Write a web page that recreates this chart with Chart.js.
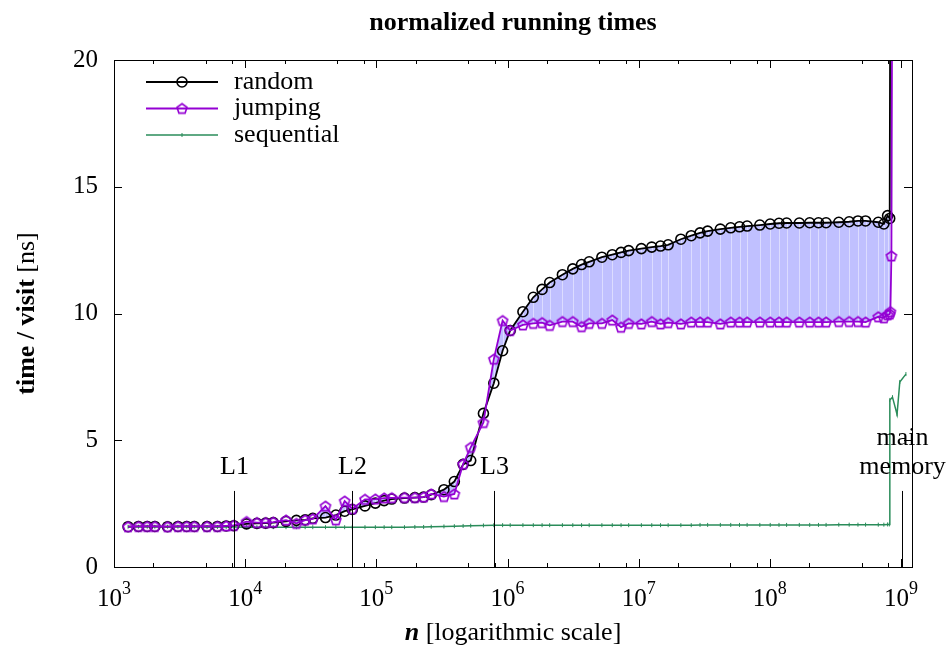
<!DOCTYPE html>
<html>
<head>
<meta charset="utf-8">
<title>normalized running times</title>
<script src="https://cdn.jsdelivr.net/npm/chart.js@4/dist/chart.umd.min.js"></script>
<style>
  html, body { margin: 0; padding: 0; background: #fff; }
  canvas { display: block; }
</style>
</head>
<body>
<canvas id="chart" width="946" height="648"></canvas>
<script>
// problem sizes n (shared by random and jumping)
const nValues = [1280, 1536, 1792, 2048, 2560, 3072, 3584, 4096, 5120, 6144, 7168, 8192,
  10240, 12288, 14336, 16384, 20480, 24576, 28672, 32768, 40960, 49152, 57344, 65536,
  81920, 98304, 114688, 131072, 163840, 196608, 229376, 262144, 327680, 393216, 458752, 524288,
  655360, 786432, 917504, 1048576, 1310720, 1572864, 1835008, 2097152, 2621440, 3145728, 3670016, 4194304,
  5242880, 6291456, 7340032, 8388608, 10485760, 12582912, 14680064, 16777216,
  20971520, 25165824, 29360128, 33554432, 41943040, 50331648, 58720256, 67108864,
  83886080, 100663296, 117440512, 134217728, 167772160, 201326592, 234881024, 268435456,
  335544320, 402653184, 469762048, 536870912, 671088640,
  740000000, 790000000, 820000000, 830000000, 845000000, 860000000];

const randomTimes = [1.59, 1.60, 1.60, 1.60, 1.59, 1.60, 1.60, 1.60, 1.60, 1.60, 1.62, 1.63,
  1.70, 1.72, 1.73, 1.75, 1.80, 1.84, 1.86, 1.92, 1.95, 2.05, 2.20, 2.27,
  2.41, 2.52, 2.62, 2.68, 2.72, 2.74, 2.76, 2.85, 3.05, 3.37, 4.05, 4.20,
  6.06, 7.25, 8.53, 9.33, 10.07, 10.64, 10.95, 11.22, 11.53, 11.76, 11.93, 12.04,
  12.22, 12.32, 12.41, 12.48, 12.56, 12.62, 12.66, 12.71,
  12.93, 13.07, 13.18, 13.25, 13.33, 13.38, 13.42, 13.45,
  13.49, 13.53, 13.56, 13.57, 13.57, 13.58, 13.58, 13.58,
  13.60, 13.62, 13.65, 13.65, 13.60,
  13.53, 13.86, 13.75, 26, 26, 26];

const jumpingTimes = [1.59, 1.60, 1.60, 1.60, 1.59, 1.60, 1.60, 1.60, 1.60, 1.60, 1.62, 1.64,
  1.79, 1.75, 1.75, 1.77, 1.85, 1.72, 1.85, 1.90, 2.40, 1.86, 2.60, 2.30,
  2.67, 2.68, 2.72, 2.73, 2.74, 2.74, 2.76, 2.88, 2.78, 2.88, 4.06, 4.72,
  5.70, 8.20, 9.72, 9.33, 9.55, 9.61, 9.64, 9.53, 9.68, 9.68, 9.48, 9.61,
  9.61, 9.74, 9.46, 9.61, 9.59, 9.68, 9.59, 9.64,
  9.59, 9.66, 9.66, 9.66, 9.59, 9.66, 9.66, 9.66,
  9.66, 9.66, 9.66, 9.66, 9.66, 9.66, 9.66, 9.66,
  9.68, 9.68, 9.68, 9.66, 9.87,
  9.83, 9.95, 9.98, 10.07, 12.27, 26];

const seqN = [1280, 1536, 1792, 2048, 2560, 3072, 3584, 4096, 5120, 6144, 7168, 8192,
  10240, 12288, 14336, 16384, 20480, 24576, 28672, 32768, 40960, 49152, 57344, 65536,
  81920, 98304, 114688, 131072, 163840, 196608, 229376, 262144, 327680, 393216, 458752, 524288,
  655360, 786432, 917504, 1048576, 1310720, 1572864, 1835008, 2097152, 2621440, 3145728, 3670016, 4194304,
  5242880, 6291456, 7340032, 8388608, 10485760, 12582912, 14680064, 16777216,
  20971520, 25165824, 29360128, 33554432, 41943040, 50331648, 58720256, 67108864,
  83886080, 100663296, 117440512, 134217728, 167772160, 201326592, 234881024, 268435456,
  335544320, 402653184, 469762048, 536870912, 671088640,
  740000000, 790000000, 815000000, 822000000, 861000000, 933000000, 979000000, 1090000000];

const seqTimes = [1.59, 1.59, 1.59, 1.59, 1.59, 1.59, 1.59, 1.59, 1.58, 1.58, 1.58, 1.58,
  1.57, 1.57, 1.57, 1.57, 1.57, 1.57, 1.57, 1.57, 1.57, 1.57, 1.57, 1.57,
  1.57, 1.57, 1.57, 1.57, 1.57, 1.58, 1.58, 1.59, 1.60, 1.61, 1.62, 1.63,
  1.64, 1.65, 1.65, 1.65, 1.65, 1.65, 1.65, 1.65, 1.65, 1.65, 1.65, 1.65,
  1.65, 1.65, 1.65, 1.65, 1.65, 1.65, 1.65, 1.65,
  1.65, 1.65, 1.66, 1.66, 1.66, 1.66, 1.66, 1.66,
  1.66, 1.66, 1.66, 1.66, 1.66, 1.66, 1.66, 1.66,
  1.67, 1.67, 1.67, 1.67, 1.67,
  1.67, 1.68, 1.68, 6.59, 6.70, 6.02, 7.30, 7.61];

// axis ticks and annotations
const xTickExponents = [3, 4, 5, 6, 7, 8, 9];
const xMinorFactors = [2, 5, 8];
const yTicks = [0, 5, 10, 15, 20];
const cacheNames = ['L1', 'L2', 'L3', 'main memory'];
const cacheSizes = [8192, 65536, 786432, 1020000000];
const seriesNames = ['random', 'jumping', 'sequential'];

const FONT = '"Liberation Serif", "Times New Roman", serif';
const PURPLE = '#9400d3';
const GREEN = '#2a8c5a';
const FILL = 'rgb(192,192,255)';

function pentagon(color, r, lw) {
    const c = document.createElement('canvas');
    const size = 2 * Math.ceil(r + lw);
    c.width = c.height = size;
    const g = c.getContext('2d');
    g.strokeStyle = color;
    g.lineWidth = lw;
    g.beginPath();
    for (let i = 0; i < 5; i++) {
        const a = -Math.PI / 2 + i * 2 * Math.PI / 5;
        const px = size / 2 + r * Math.cos(a);
        const py = size / 2 + 0.5 + r * Math.sin(a);
        if (i === 0) g.moveTo(px, py); else g.lineTo(px, py);
    }
    g.closePath();
    g.stroke();
    return c;
}
const pentaImg = pentagon(PURPLE, 5.2, 1.7);

const toPoints = (xs, ys) => xs.map((n, i) => ({ x: n, y: ys[i] }));

// frame, inward ticks, labels, legend, cache markers
const framePlugin = {
    id: 'frame',
    beforeDatasetsDraw(chart) {
        // faint stripes of the filled area
        const { ctx, chartArea: a, scales: { x, y } } = chart;
        ctx.save();
        ctx.beginPath();
        ctx.rect(a.left, a.top, a.right - a.left, a.bottom - a.top);
        ctx.clip();
        ctx.strokeStyle = 'rgba(255,255,255,0.45)';
        ctx.lineWidth = 1;
        nValues.forEach((n, i) => {
            const px = Math.round(x.getPixelForValue(n)) + 0.5;
            ctx.beginPath();
            ctx.moveTo(px, y.getPixelForValue(randomTimes[i]));
            ctx.lineTo(px, y.getPixelForValue(jumpingTimes[i]));
            ctx.stroke();
        });
        ctx.restore();
    },
    afterDraw(chart) {
        const { ctx, chartArea: a, scales: { x, y } } = chart;
        ctx.save();
        ctx.strokeStyle = '#000';
        ctx.lineWidth = 1;
        ctx.strokeRect(a.left + 0.5, a.top + 0.5, a.right - a.left, a.bottom - a.top);

        // x ticks (inward, mirrored)
        ctx.beginPath();
        xTickExponents.forEach(e => {
            const px = Math.round(x.getPixelForValue(Math.pow(10, e))) + 0.5;
            ctx.moveTo(px, a.bottom); ctx.lineTo(px, a.bottom - 8);
            ctx.moveTo(px, a.top); ctx.lineTo(px, a.top + 8);
            xMinorFactors.forEach(f => {
                const v = f * Math.pow(10, e);
                if (v > x.max) return;
                const mx = Math.round(x.getPixelForValue(v)) + 0.5;
                ctx.moveTo(mx, a.bottom); ctx.lineTo(mx, a.bottom - 4);
                ctx.moveTo(mx, a.top); ctx.lineTo(mx, a.top + 4);
            });
        });
        yTicks.forEach(v => {
            const py = Math.round(y.getPixelForValue(v)) + 0.5;
            ctx.moveTo(a.left, py); ctx.lineTo(a.left + 8, py);
            ctx.moveTo(a.right, py); ctx.lineTo(a.right - 8, py);
        });
        ctx.stroke();

        // x tick labels with superscript exponent
        ctx.fillStyle = '#000';
        ctx.textBaseline = 'alphabetic';
        ctx.textAlign = 'left';
        xTickExponents.forEach(e => {
            const px = x.getPixelForValue(Math.pow(10, e));
            ctx.font = '25px ' + FONT;
            const w1 = ctx.measureText('10').width;
            ctx.font = '18px ' + FONT;
            const w2 = ctx.measureText(String(e)).width;
            const x0 = px - (w1 + w2) / 2;
            ctx.font = '25px ' + FONT;
            ctx.fillText('10', x0, 606);
            ctx.font = '18px ' + FONT;
            ctx.fillText(String(e), x0 + w1, 594);
        });

        // x axis title
        ctx.textBaseline = 'middle';
        const bi = 'italic bold 26px ' + FONT, rg = '26px ' + FONT;
        ctx.font = bi; const wn = ctx.measureText('n').width;
        ctx.font = rg; const wr = ctx.measureText(' [logarithmic scale]').width;
        let cx = (a.left + a.right) / 2 - (wn + wr) / 2;
        ctx.font = bi; ctx.fillText('n', cx, 633);
        ctx.font = rg; ctx.fillText(' [logarithmic scale]', cx + wn, 633);

        // y axis title
        ctx.save();
        ctx.translate(27, (a.top + a.bottom) / 2);
        ctx.rotate(-Math.PI / 2);
        const bd = 'bold 26px ' + FONT;
        ctx.font = bd; const wb = ctx.measureText('time / visit').width;
        ctx.font = rg; const wu = ctx.measureText(' [ns]').width;
        ctx.font = bd; ctx.fillText('time / visit', -(wb + wu) / 2, 0);
        ctx.font = rg; ctx.fillText(' [ns]', -(wb + wu) / 2 + wb, 0);
        ctx.restore();

        // cache level markers
        ctx.font = '26px ' + FONT;
        ctx.textAlign = 'center';
        ctx.strokeStyle = '#000';
        cacheSizes.forEach((n, i) => {
            const px = Math.round(x.getPixelForValue(n)) + 0.5;
            ctx.beginPath();
            ctx.moveTo(px, y.getPixelForValue(0));
            ctx.lineTo(px, y.getPixelForValue(3));
            ctx.stroke();
            const parts = cacheNames[i].split(' ');
            parts.forEach((t, k) => {
                const v = 3.95 + (parts.length - 1 - k) * 1.15;
                ctx.fillText(t, px, y.getPixelForValue(v));
            });
        });

        // legend inside the plot
        const rows = [82, 108.5, 135];
        const colors = ['#000', PURPLE, GREEN];
        rows.forEach((ry, i) => {
            ctx.strokeStyle = colors[i];
            ctx.lineWidth = i === 2 ? 1.5 : 1.8;
            ctx.beginPath();
            ctx.moveTo(146, ry); ctx.lineTo(218, ry);
            ctx.stroke();
            if (i === 0) {
                ctx.lineWidth = 1.6;
                ctx.beginPath(); ctx.arc(182, ry, 5, 0, Math.PI * 2); ctx.stroke();
            } else if (i === 1) {
                ctx.drawImage(pentaImg, 182 - pentaImg.width / 2, ry - pentaImg.height / 2);
            } else {
                ctx.lineWidth = 1;
                ctx.beginPath(); ctx.moveTo(182, ry - 2); ctx.lineTo(182, ry + 2); ctx.stroke();
            }
            ctx.fillStyle = '#000';
            ctx.textAlign = 'left';
            ctx.fillText(seriesNames[i], 234, ry);
        });
        ctx.restore();
    }
};

const ctx = document.getElementById('chart').getContext('2d');
const chart = new Chart(ctx, {
    type: 'line',
    data: {
        datasets: [{
            label: 'jumping',
            data: toPoints(nValues, jumpingTimes),
            borderColor: PURPLE,
            borderWidth: 1.8,
            pointStyle: pentaImg,
            fill: false
        }, {
            label: 'random',
            data: toPoints(nValues, randomTimes),
            borderColor: '#000',
            borderWidth: 1.8,
            pointStyle: 'circle',
            pointRadius: 5,
            pointBorderWidth: 1.6,
            pointBorderColor: '#000',
            pointBackgroundColor: 'rgba(0,0,0,0)',
            fill: { target: 0, above: FILL, below: FILL }
        }, {
            label: 'sequential',
            data: toPoints(seqN, seqTimes),
            borderColor: GREEN,
            borderWidth: 1.5,
            pointStyle: 'line',
            pointRotation: 90,
            pointRadius: 2,
            pointBorderWidth: 1,
            pointBorderColor: GREEN,
            fill: false
        }]
    },
    options: {
        responsive: false,
        animation: false,
        events: [],
        layout: { padding: { left: 0, right: 34, top: 0, bottom: 0 } },
        scales: {
            x: {
                type: 'logarithmic',
                min: 1000,
                max: 1.213e9,
                grid: { display: false, drawTicks: false },
                border: { display: false },
                ticks: { display: false },
                afterFit: s => { s.height = 81; }
            },
            y: {
                min: 0,
                max: 20,
                grid: { display: false, drawTicks: false },
                border: { display: false },
                ticks: {
                    stepSize: 5,
                    padding: 16,
                    color: '#000',
                    font: { family: FONT, size: 25 }
                },
                afterFit: s => { s.width = 114; }
            }
        },
        plugins: {
            legend: { display: false },
            tooltip: { enabled: false },
            filler: { drawTime: 'beforeDatasetsDraw' },
            title: {
                display: true,
                text: 'normalized running times',
                fullSize: false,
                color: '#000',
                font: { family: FONT, size: 26, weight: 'bold', lineHeight: 1.2 },
                padding: { top: 7.5, bottom: 21.3 }
            }
        }
    },
    plugins: [framePlugin]
});
</script>
</body>
</html>
